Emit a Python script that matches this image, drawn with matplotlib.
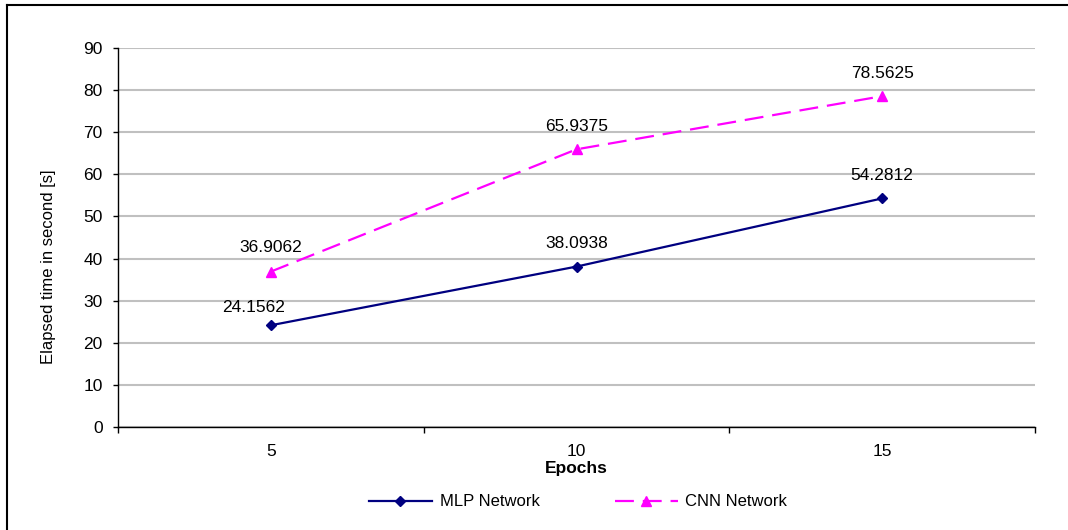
import matplotlib
matplotlib.use("Agg")
import matplotlib.pyplot as plt
from matplotlib.lines import Line2D

plt.rcParams['font.family'] = ['Liberation Sans', 'DejaVu Sans']

epochs = ["5", "10", "15"]
mlp_time = [24.1562, 38.0938, 54.2812]
cnn_time = [36.9062, 65.9375, 78.5625]
y_ticks = [0, 10, 20, 30, 40, 50, 60, 70, 80, 90]

W, H = 1068, 530
fig = plt.figure(figsize=(W / 100, H / 100), dpi=100)
ax = fig.add_axes([118 / W, 1 - 427 / H, (1035 - 118) / W, (427 - 48) / H])

x = list(range(len(epochs)))
ax.plot(x, mlp_time, color="#000080", lw=1.6, marker="D", ms=5,
        label="MLP Network", zorder=3)
ax.plot(x, cnn_time, color="#FF00FF", lw=1.6, ls=(0, (8.5, 4)), marker="^",
        ms=6.5, label="CNN Network", zorder=3)

# value labels above each point (offsets in points)
mlp_off = [(-12.5, 9.7), (0, 13.3), (0, 13.3)]
cnn_off = [(0, 13.8), (0, 13.3), (0, 13.3)]
for xi, v, (dx, dy) in zip(x, mlp_time, mlp_off):
    ax.annotate(f"{v:g}", (xi, v), xytext=(dx, dy), textcoords="offset points",
                ha="center", va="baseline", fontsize=12.5)
for xi, v, (dx, dy) in zip(x, cnn_time, cnn_off):
    ax.annotate(f"{v:g}", (xi, v), xytext=(dx, dy), textcoords="offset points",
                ha="center", va="baseline", fontsize=12.5)

ax.set_xlim(-0.5, len(epochs) - 0.5)
ax.set_ylim(0, 90)
ax.set_yticks(y_ticks)
ax.set_xticks(x)
ax.set_xticklabels(epochs)
ax.set_xticks([i - 0.5 for i in range(len(epochs) + 1)], minor=True)
ax.tick_params(axis="x", which="major", length=0, pad=12.5, labelsize=12.5)
ax.tick_params(axis="x", which="minor", length=4, direction="out", width=1)
ax.tick_params(axis="y", length=3.6, direction="out", labelsize=12.5, pad=7.5, width=1)

ax.grid(axis="y", color="#C0C0C0", lw=1.5)
ax.set_axisbelow(True)
for s in ("top", "right"):
    ax.spines[s].set_visible(False)
for s in ("left", "bottom"):
    ax.spines[s].set_color("black")
    ax.spines[s].set_linewidth(1.0)

ax.set_xlabel("Epochs", fontsize=12.5, fontweight="bold", labelpad=1)
ax.set_ylabel("Elapsed time in second [s]", fontsize=12)
ax.yaxis.set_label_coords((56 - 118) / (1035 - 118), 1 - (267 - 48) / (427 - 48))

fig.legend(loc="center", bbox_to_anchor=(578 / W, 1 - 502 / H), ncol=2,
           frameon=False, fontsize=12, handlelength=3.8, columnspacing=4.5,
           handletextpad=0.45)

# outer frame (left and top edges)
fig.add_artist(Line2D([7 / W, 7 / W], [0, 1 - 5 / H], transform=fig.transFigure,
                      color="black", lw=1.5))
fig.add_artist(Line2D([7 / W, 1], [1 - 5 / H, 1 - 5 / H], transform=fig.transFigure,
                      color="black", lw=1.5))

fig.savefig("out.png", dpi=100, facecolor="white")
